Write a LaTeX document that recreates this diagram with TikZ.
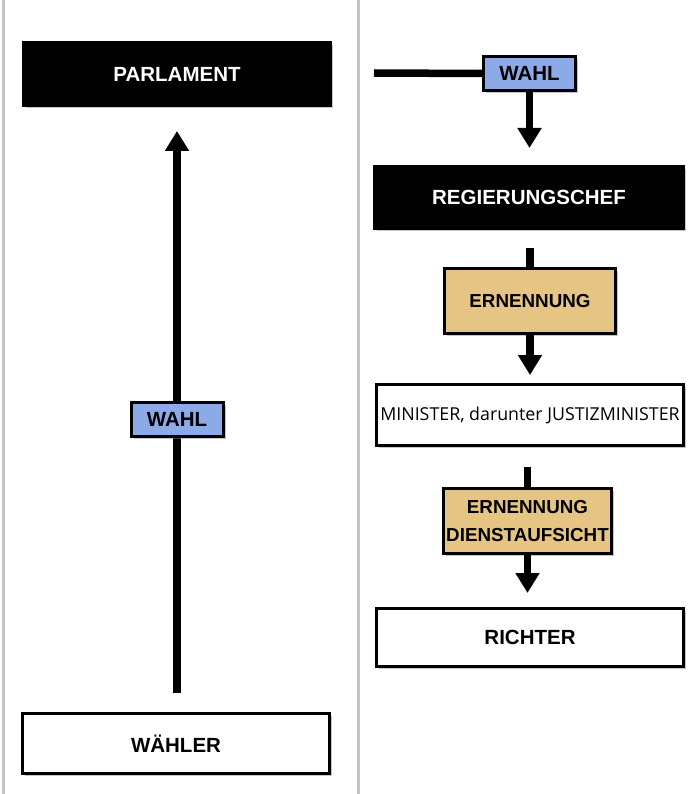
\documentclass[tikz,border=0pt]{standalone}
\usepackage{fontspec}
\setmainfont{Liberation Sans}
\newfontfamily\plainfont{Open Sans}
\usepackage{tikz}
\usetikzlibrary{arrows.meta, positioning, shadows}

\definecolor{wahlblue}{HTML}{8DAAE8}
\definecolor{ernenntan}{HTML}{E6C584}
\definecolor{sepgray}{HTML}{C4C4C4}

\begin{document}
\begin{tikzpicture}[x=1pt, y=-1pt,
            box/.style={rectangle, draw=black, line width=3pt, fill=white, align=center, inner sep=0pt,
                font=\fontsize{20.5}{28}\selectfont\bfseries,
                drop shadow={shadow xshift=2.5pt, shadow yshift=-2.5pt, opacity=0.45}},
            darkbox/.style={box, fill=black, text=white},
            wahlbox/.style={box, fill=wahlblue, minimum width=92pt, minimum height=34pt},
            ernbox/.style={box, fill=ernenntan, minimum height=65pt, font=\fontsize{18.8}{28}\selectfont\bfseries},
            wide/.style={minimum width=307pt, minimum height=62pt},
            thickline/.style={line width=7.5pt, black},
            arrow/.style={thickline, -{Triangle[width=23pt, length=20pt]}}
        ]
            \useasboundingbox (0,0) rectangle (688,794);
            \draw[sepgray, line width=3pt] (3,0) -- (3,794);
            \draw[sepgray, line width=3pt] (358,0) -- (358,794);

            % left column
            \node[darkbox, wide, minimum height=63pt] (parlament) at (177, 74) {PARLAMENT};
            \node[box, wide, minimum height=60pt] (waehler) at (176, 743.5) {WÄHLER};
            \draw[arrow, shorten <=19pt, shorten >=24pt] (waehler.north -| parlament.south) -- (parlament.south);
            \node[wahlbox] (wahlL) at (177, 419) {WAHL};

            % right column
            \coordinate (wahlstart) at (374, 73);
            \node[wahlbox] (wahlR) at (529.5, 73.5) {WAHL};
            \node[darkbox, wide, minimum width=309pt] (chef) at (529, 197.5) {REGIERUNGSCHEF};
            \node[ernbox, minimum width=171pt] (ern1) at (530, 301) {ERNENNUNG};
            \node[box, wide, minimum height=61pt, font=\fontsize{17.8}{20}\plainfont] (minister) at (530, 415) {MINISTER, darunter JUSTIZMINISTER};
            \node[ernbox, minimum width=168pt] (ern2) at (527.5, 521) {ERNENNUNG\\DIENSTAUFSICHT};
            \node[box, wide, minimum height=58pt] (richter) at (530, 637.5) {RICHTER};

            \draw[thickline] (wahlstart) -- (wahlR.west);
            \draw[arrow, shorten >=17pt] (wahlR.south) -- (wahlR.south |- chef.north);
            \draw[thickline, shorten <=18pt] (chef.south -| ern1.north) -- (ern1.north);
            \draw[arrow, shorten >=8pt] (ern1.south) -- (ern1.south |- minister.north);
            \draw[thickline, shorten <=20pt] (minister.south -| ern2.north) -- (ern2.north);
            \draw[arrow, shorten >=14pt] (ern2.south) -- (ern2.south |- richter.north);
        \end{tikzpicture}
\end{document}
